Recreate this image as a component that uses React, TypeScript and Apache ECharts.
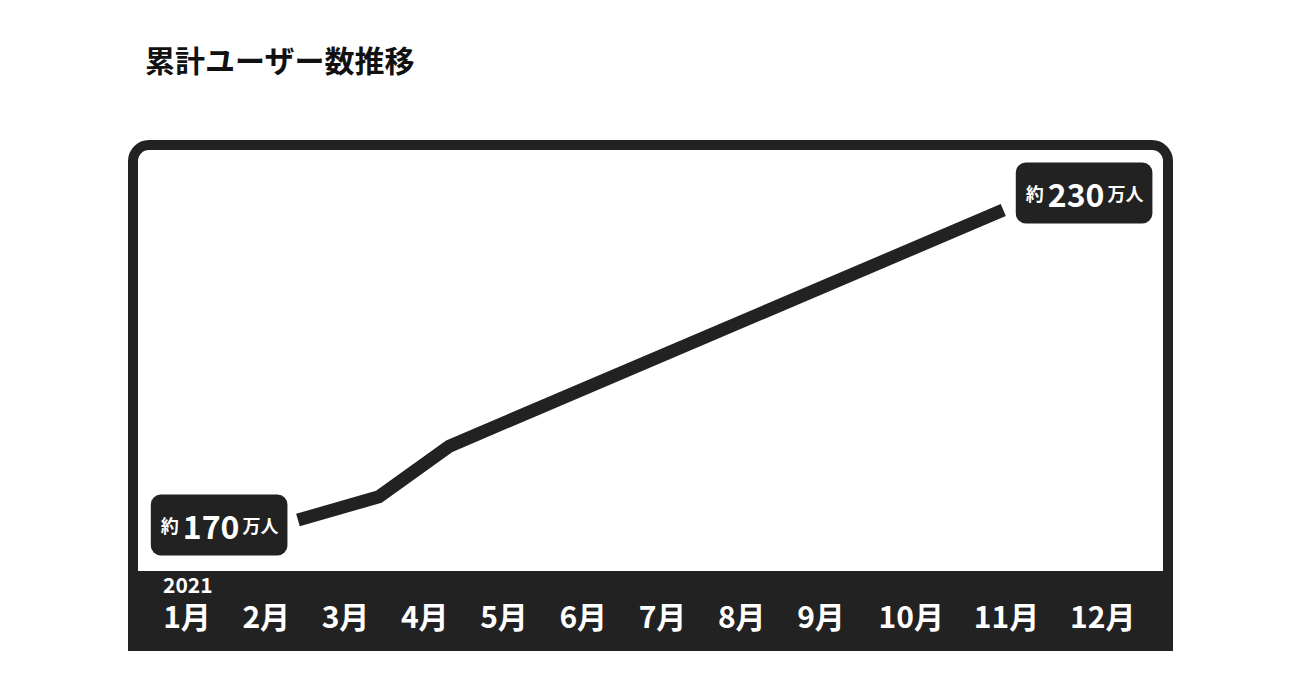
import React, { useEffect, useRef } from "react";
import * as echarts from "echarts";

// ---- data ----
const chartTitle = "累計ユーザー数推移";
const yearLabel = "2021";
const monthLabels = ["1月", "2月", "3月", "4月", "5月", "6月", "7月", "8月", "9月", "10月", "11月", "12月"];
const monthTicks = [1, 2, 3, 4, 5, 6, 7, 8, 9, 10, 11, 12];
// line path points (month position, users in 万人)
const pointMonths = [2.4, 3.42, 4.31, 11.3];
const pointUsers = [170, 174.5, 184.3, 230];

const FONT = "'Noto Sans CJK JP', 'Noto Sans', sans-serif";
const DARK = "#222222";

// per-label horizontal nudges (px) to mimic the original label row layout
const labelShift: Record<number, number> = { 10: 11, 11: 27, 12: 44 };

export default function App() {
  const ref = useRef<HTMLDivElement>(null);

  useEffect(() => {
    if (!ref.current) return;
    const chart = echarts.init(ref.current, undefined, { renderer: "svg" });

    const rich: Record<string, any> = {};
    monthTicks.forEach((m) => {
      const s = labelShift[m] || 0;
      rich["m" + m] = {
        color: "#ffffff",
        fontFamily: FONT,
        fontSize: 30,
        fontWeight: "bold",
        lineHeight: 26,
        padding: [0, s < 0 ? -2 * s : 0, 0, s > 0 ? 2 * s : 0],
      };
    });

    const boxLabel = {
      show: true,
      formatter: (p: any) => `{s|約}{b|${p.value[1]}}{s|万人}`,
      backgroundColor: DARK,
      borderRadius: 10,
      padding: [10, 9, 10, 10],
      rich: {
        s: { color: "#fff", fontFamily: FONT, fontSize: 18, fontWeight: "bold", lineHeight: 41, verticalAlign: "middle" },
        b: {
          color: "#fff",
          fontFamily: FONT,
          fontSize: 32,
          fontWeight: "bold",
          lineHeight: 41,
          verticalAlign: "middle",
          padding: [0, 3, 0, 4],
        },
      },
    };

    const last = pointUsers.length - 1;
    const seriesData = pointUsers.map((v, i) => {
      const item: any = { value: [pointMonths[i], v] };
      if (i === 0) item.label = { ...boxLabel, position: "left", distance: 10, offset: [0, 5] };
      else if (i === last) item.label = { ...boxLabel, position: "right", distance: 12, offset: [0, -17] };
      return item;
    });

    chart.setOption({
      animation: false,
      backgroundColor: "#ffffff",
      title: {
        text: chartTitle,
        left: 145,
        top: 44,
        padding: 0,
        textStyle: { fontFamily: FONT, fontSize: 30, fontWeight: "bold", color: "#111111" },
      },
      graphic: [
        {
          type: "rect",
          z: -20,
          shape: { x: 133, y: 145, width: 1035, height: 500, r: [16, 16, 0, 0] },
          style: { fill: "#ffffff", stroke: DARK, lineWidth: 10 },
        },
        {
          type: "rect",
          z: -10,
          shape: { x: 128, y: 571, width: 1045, height: 80 },
          style: { fill: DARK },
        },
        {
          type: "text",
          z: 5,
          x: 163,
          y: 584,
          style: {
            text: yearLabel,
            fill: "#ffffff",
            font: `bold 21px ${FONT}`,
            verticalAlign: "middle",
            align: "left",
          },
        },
      ],
      grid: { left: 107.75, right: 162, top: 106.7, bottom: 108.3, containLabel: false },
      xAxis: {
        type: "value",
        min: 0,
        max: 13,
        interval: 1,
        z: 10,
        axisLine: { show: false },
        axisTick: { show: false },
        splitLine: { show: false },
        axisLabel: {
          margin: 43,
          verticalAlign: "middle",
          showMinLabel: false,
          showMaxLabel: false,
          formatter: (v: number) => {
            const i = monthTicks.indexOf(v);
            return i >= 0 ? `{m${v}|${monthLabels[i]}}` : "";
          },
          rich,
        },
      },
      yAxis: {
        type: "value",
        min: 160,
        max: 250,
        show: false,
        splitLine: { show: false },
      },
      series: [
        {
          type: "line",
          data: seriesData,
          showSymbol: true,
          symbol: "circle",
          symbolSize: 1,
          itemStyle: { color: "rgba(0,0,0,0)" },
          z: 3,
          lineStyle: { color: DARK, width: 13, cap: "butt", join: "miter" },
        },
      ],
    });

    return () => chart.dispose();
  }, []);

  return (
    <div
      ref={ref}
      style={{ position: "fixed", left: 0, top: 0, width: 1300, height: 680, background: "#fff" }}
    />
  );
}
